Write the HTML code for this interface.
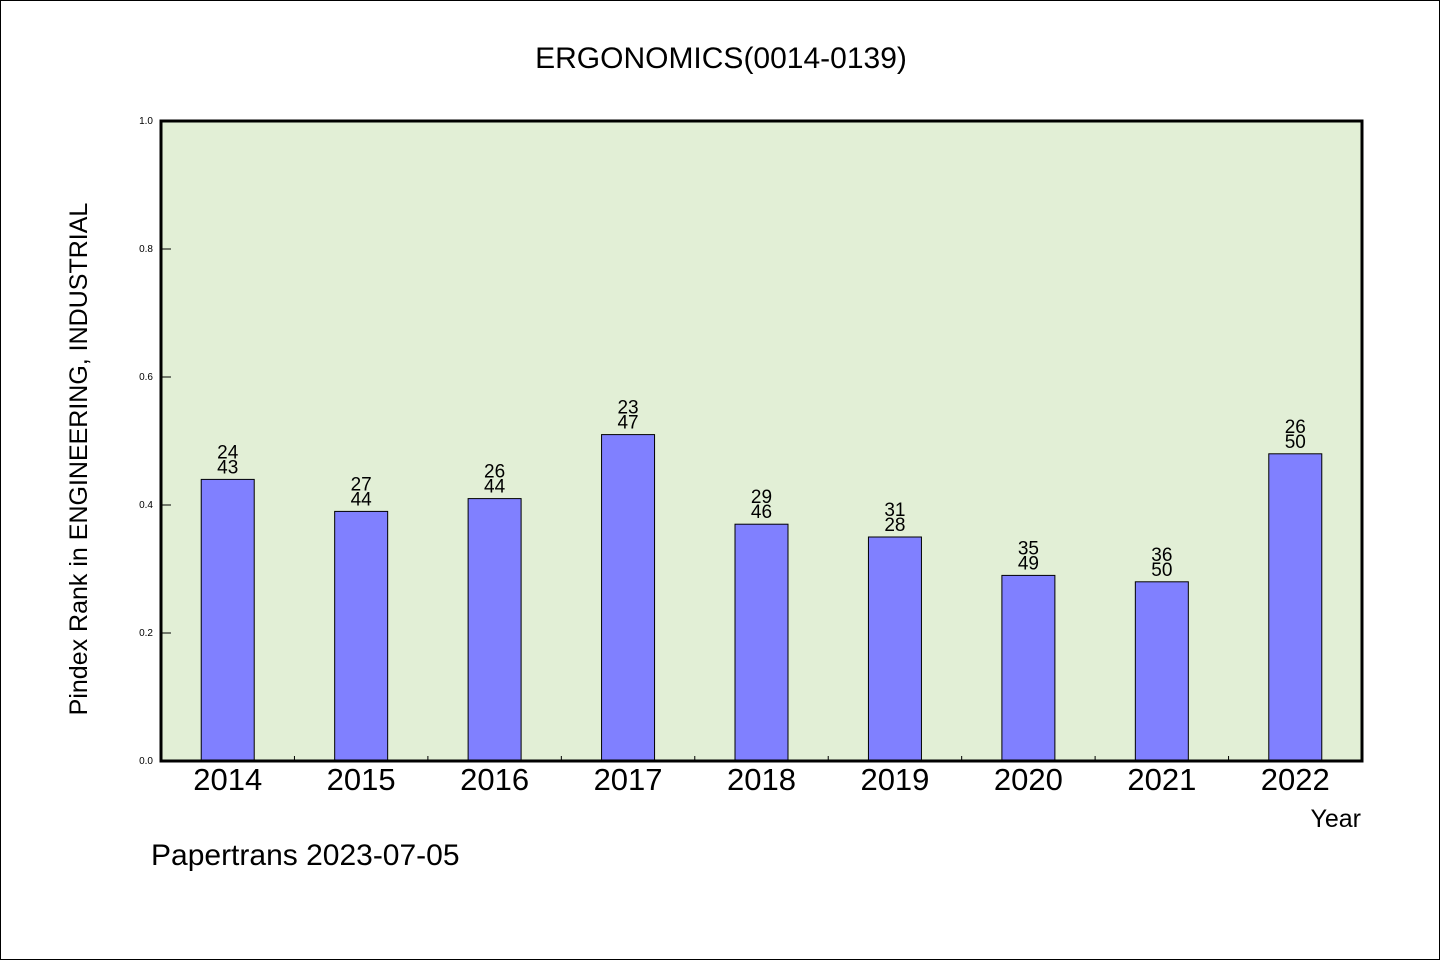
<!DOCTYPE html>
<html><head><meta charset="utf-8"><style>
body{margin:0;background:#fff}
#wrap{position:relative;width:1438px;height:958px;border:1px solid #000;background:#fff;overflow:hidden}
svg text{font-family:"WenQuanYi Zen Hei","Liberation Sans",sans-serif}
</style></head><body>
<div id="wrap">
<svg id="chart" width="1440" height="960">
<text x="720" y="67" font-size="30" text-anchor="middle">ERGONOMICS(0014-0139)</text>
<rect x="160" y="120" width="1201" height="640" fill="#e2efd6"/>
<g id="marks"></g>
<rect x="160" y="120" width="1201" height="640" fill="none" stroke="#000" stroke-width="3"/>
<text transform="translate(86,458) rotate(-90)" font-size="25" text-anchor="middle">Pindex Rank in ENGINEERING, INDUSTRIAL</text>
<text x="1360" y="826" font-size="25" text-anchor="end">Year</text>
<text x="150" y="864" font-size="30">Papertrans 2023-07-05</text>
</svg></div>
<script>
const categories=["2014","2015","2016","2017","2018","2019","2020","2021","2022"];
const values=[0.44,0.39,0.41,0.51,0.37,0.35,0.29,0.28,0.48];
const topLabels=["24","27","26","23","29","31","35","36","26"];
const bottomLabels=["43","44","44","47","46","28","49","50","50"];
const yTicks=[0,0.2,0.4,0.6,0.8,1.0];
const yTickLabels=["0.0","0.2","0.4","0.6","0.8","1.0"];
const X0=160,W=1201,Y0=760,H=640;
const band=W/categories.length;
const y=v=>Y0-v*H;
const xc=i=>X0+band*(i+0.5);
const g=document.getElementById('marks');
const NS="http://www.w3.org/2000/svg";
function mk(t,a){const e=document.createElementNS(NS,t);for(const k in a)e.setAttribute(k,a[k]);g.appendChild(e);return e;}
yTicks.forEach((v,i)=>{
 const l=mk('line',{x1:X0,x2:X0+10,y1:y(v),y2:y(v),stroke:'#000'});
 
 
 const t=mk('text',{x:X0-8,y:y(v)+3,'font-size':10,'text-anchor':'end'});
 t.textContent=yTickLabels[i];
 
 
});
categories.forEach((c,i)=>{
 const bw=53;
 const r=mk('rect',{x:xc(i)-bw/2,y:y(values[i]),width:bw,height:Y0-y(values[i]),fill:'#8080ff',stroke:'#000','stroke-width':1});
 
 
 const t1=mk('text',{x:xc(i),y:y(values[i])-21,'font-size':19,'text-anchor':'middle'});
 t1.textContent=topLabels[i];
 
 
 const t2=mk('text',{x:xc(i),y:y(values[i])-6,'font-size':19,'text-anchor':'middle'});
 t2.textContent=bottomLabels[i];
 
 
 const xl=mk('text',{x:xc(i),y:789,'font-size':31,'text-anchor':'middle'});
 xl.textContent=c;
 
 
 if(i>0){const tk=mk('line',{x1:X0+band*i,x2:X0+band*i,y1:Y0,y2:Y0-5,stroke:'#000'});
 
 }
});
</script>
</body></html>
